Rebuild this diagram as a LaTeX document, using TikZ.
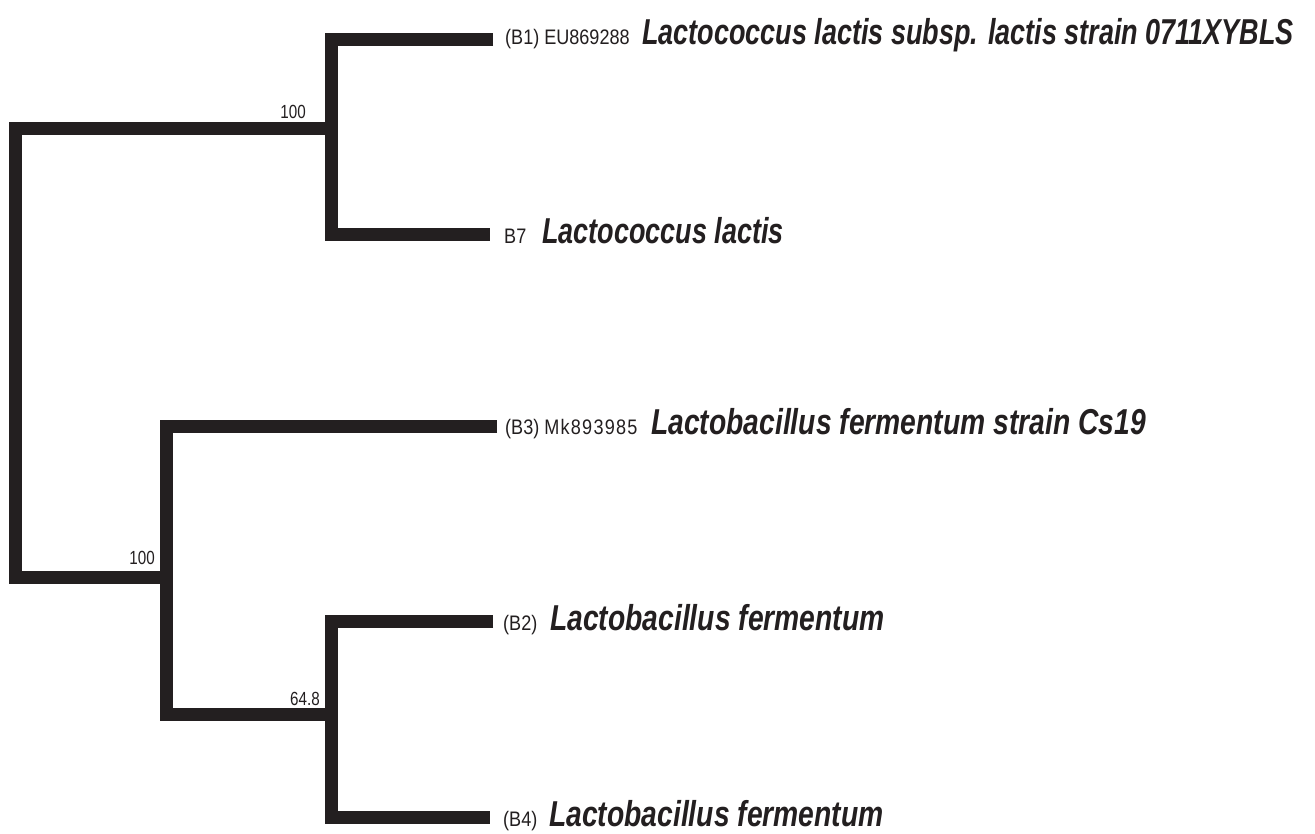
\documentclass[tikz,border=0pt]{standalone}
\usepackage{fontspec}
\newfontfamily\bigfont{Liberation Sans}[FakeStretch=0.75]
\newfontfamily\bigfontwide{Liberation Sans}[FakeStretch=0.785]
\newfontfamily\smallfont{Liberation Sans}[FakeStretch=0.86]
\newfontfamily\smallfontspaced{Liberation Sans}[FakeStretch=0.86,LetterSpace=6]
\newfontfamily\numfont{Liberation Sans}[FakeStretch=0.8]
\definecolor{ink}{RGB}{35,31,32}
\begin{document}
\begin{tikzpicture}[x=1pt,y=-1pt,
  branch/.style={line width=13pt, draw=ink, line join=miter, line cap=butt},
  acc/.style={anchor=base west, inner sep=0pt, text=ink, font=\smallfont\fontsize{21}{21}\selectfont},
  taxon/.style={anchor=base west, inner sep=0pt, text=ink, font=\bigfont\bfseries\itshape\fontsize{36}{36}\selectfont},
  taxonwide/.style={taxon, font=\bigfontwide\bfseries\itshape\fontsize{36}{36}\selectfont},
  boot/.style={anchor=base east, inner sep=0pt, text=ink, font=\numfont\fontsize{19}{19}\selectfont}]
\useasboundingbox[fill=white] (0,0) rectangle (1315,833);
% leaf ends
\coordinate (l1) at (493,39);
\coordinate (l2) at (490,234);
\coordinate (l3) at (497,426.5);
\coordinate (l4) at (493,621.5);
\coordinate (l5) at (490,817.5);
% internal nodes
\coordinate (n1) at (331,128);
\coordinate (n2) at (166,577);
\coordinate (n3) at (331,714.5);
\coordinate (root) at (15.5,352);
% branches
\draw[branch] (l1) -| (n1) |- (l2);
\draw[branch] (n1) -| (root) |- (n2);
\draw[branch] (l3) -| (n2) |- (n3);
\draw[branch] (l4) -| (n3) |- (l5);
% bootstrap values
\node[boot] (b1) at (306,118) {100};
\node[boot] (b2) at (155,564) {100};
\node[boot] (b3) at (320,705) {64.8};
% labels
\node[acc] (a1) at (505,44) {(B1) EU869288};
\node[taxon] (t1) at (642,44) {Lactococcus lactis subsp. lactis strain 0711XYBLS};
\node[acc] (a2) at (504,243) {B7};
\node[taxon] (t2) at (542,243) {Lactococcus lactis};
\node[acc] (a3) at (505,434) {(B3) {\smallfontspaced Mk893985}};
\node[taxonwide] (t3) at (651,434) {Lactobacillus fermentum strain Cs19};
\node[acc] (a4) at (503,630) {(B2)};
\node[taxonwide] (t4) at (550,630) {Lactobacillus fermentum};
\node[acc] (a5) at (503,826) {(B4)};
\node[taxonwide] (t5) at (549,826) {Lactobacillus fermentum};
\end{tikzpicture}
\end{document}
